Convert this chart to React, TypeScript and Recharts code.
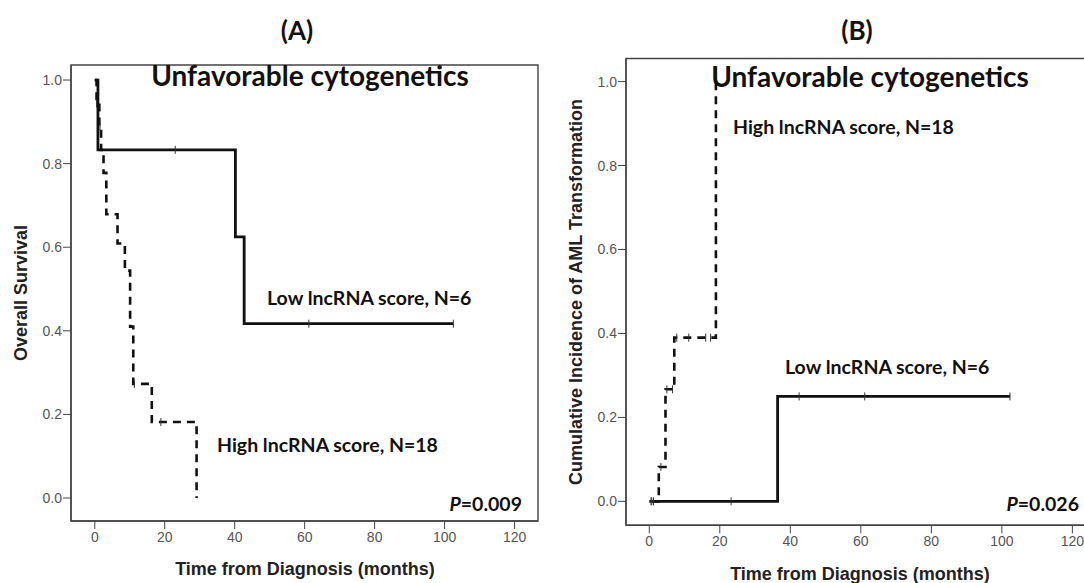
import { ComposedChart, Line, Scatter, XAxis, YAxis, ReferenceArea } from 'recharts';

const xTicks = [0, 20, 40, 60, 80, 100, 120];
const yTicks = [0, 0.2, 0.4, 0.6, 0.8, 1.0];

// (A) overall survival, low lncRNA score (N=6)
const osLowTime = [0, 0.9, 40.2, 42.7, 102.5];
const osLowValue = [1.0, 0.833, 0.625, 0.417, 0.417];
const osLowCensorTime = [23, 61.2, 102.5];
const osLowCensorValue = [0.833, 0.417, 0.417];

// (A) overall survival, high lncRNA score (N=18)
const osHighTime = [0, 0.5, 1.3, 1.8, 2.5, 3.3, 6.5, 8.6, 10.1, 11.0, 16.3, 29.1];
const osHighValue = [1.0, 0.944, 0.889, 0.833, 0.778, 0.679, 0.609, 0.544, 0.41, 0.273, 0.182, 0];
const osHighCensorTime = [0.5, 1.5, 11.3, 18.9];
const osHighCensorValue = [0.944, 0.889, 0.273, 0.182];

// (B) cumulative incidence of AML transformation, low score
const amlLowTime = [0, 36.4, 102.3];
const amlLowValue = [0, 0.25, 0.25];
const amlLowCensorTime = [0.5, 1.2, 23.2, 42.5, 61.1, 102.3];
const amlLowCensorValue = [0, 0, 0, 0.25, 0.25, 0.25];

// (B) high score
const amlHighTime = [0.5, 2.7, 4.6, 7.1, 18.9];
const amlHighValue = [0, 0.082, 0.267, 0.39, 1.0];
const amlHighCensorTime = [0.7, 3.3, 5.0, 6.6, 7.8, 11.2, 16.0, 17.4];
const amlHighCensorValue = [0, 0.082, 0.267, 0.267, 0.39, 0.39, 0.39, 0.39];

const zip = (t: number[], v: number[]) => t.map((x, i) => ({ x, y: v[i] }));

const Censor = (p: any) => (
  <line x1={p.cx} x2={p.cx} y1={p.cy - 4} y2={p.cy + 4} stroke="#333" strokeWidth={1} />
);

const axisFont = { fill: '#555', fontSize: 14, fontFamily: 'Liberation Sans, Arial, sans-serif' };

function Panel(props: any) {
  const { left, width, margin, xDomain, yDomain, low, high, lowCensor, highCensor } = props;
  return (
    <div style={{ position: 'absolute', left, top: 0 }}>
      <ComposedChart width={width} height={583} margin={margin}>
        <XAxis
          type="number"
          dataKey="x"
          domain={xDomain}
          ticks={xTicks}
          interval={0}
          allowDataOverflow
          height={30}
          tickSize={8}
          tickMargin={3}
          axisLine={{ stroke: '#444', strokeWidth: 1.4 }}
          tickLine={{ stroke: '#444' }}
          tick={axisFont}
        />
        <YAxis
          type="number"
          dataKey="y"
          domain={yDomain}
          ticks={yTicks}
          interval={0}
          allowDataOverflow
          width={40}
          tickSize={8}
          tickMargin={1}
          tickFormatter={(v: number) => v.toFixed(1)}
          axisLine={{ stroke: '#444', strokeWidth: 1.4 }}
          tickLine={{ stroke: '#444' }}
          tick={axisFont}
        />
        <ReferenceArea
          x1={xDomain[0]}
          x2={xDomain[1]}
          y1={yDomain[0]}
          y2={yDomain[1]}
          fill="none"
          stroke="#444"
          strokeWidth={1.4}
          ifOverflow="visible"
        />
        <Line data={low} dataKey="y" type="stepAfter" stroke="#111" strokeWidth={2.8} dot={false} isAnimationActive={false} />
        <Line data={high} dataKey="y" type="stepAfter" stroke="#111" strokeWidth={2.6} strokeDasharray="8 6" dot={false} isAnimationActive={false} />
        <Scatter data={lowCensor} dataKey="y" shape={Censor} isAnimationActive={false} />
        <Scatter data={highCensor} dataKey="y" shape={Censor} isAnimationActive={false} />
      </ComposedChart>
    </div>
  );
}

const noteFont = 'Lato, "Open Sans", sans-serif';
const titleFont = 'Liberation Sans, Arial, sans-serif';

export default function App() {
  return (
    <div style={{ position: 'fixed', left: 0, top: 0, width: 1084, height: 583, overflow: 'hidden', background: '#fff' }}>
      <Panel
        left={0}
        width={560}
        margin={{ top: 65, right: 22, bottom: 32, left: 31 }}
        xDomain={[-6.8, 126.7]}
        yDomain={[-0.055, 1.036]}
        low={zip(osLowTime, osLowValue)}
        high={zip(osHighTime, osHighValue)}
        lowCensor={zip(osLowCensorTime, osLowCensorValue)}
        highCensor={zip(osHighCensorTime, osHighCensorValue)}
      />
      <Panel
        left={540}
        width={570}
        margin={{ top: 58.5, right: 14, bottom: 27.7, left: 46 }}
        xDomain={[-6.6, 126.7]}
        yDomain={[-0.057, 1.055]}
        low={zip(amlLowTime, amlLowValue)}
        high={zip(amlHighTime, amlHighValue)}
        lowCensor={zip(amlLowCensorTime, amlLowCensorValue)}
        highCensor={zip(amlHighCensorTime, amlHighCensorValue)}
      />
      <svg width={1084} height={583} style={{ position: 'absolute', left: 0, top: 0, pointerEvents: 'none' }}>
        <g fontFamily={noteFont} fontWeight="bold" fill="#111">
          <text x={297} y={40} fontSize={26} textAnchor="middle">(A)</text>
          <text x={857} y={40} fontSize={26} textAnchor="middle">(B)</text>
          <text x={310} y={86} fontSize={28} textAnchor="middle">Unfavorable cytogenetics</text>
          <text x={870} y={87} fontSize={28} textAnchor="middle">Unfavorable cytogenetics</text>
          <text x={267} y={305} fontSize={19.5}>Low lncRNA score, N=6</text>
          <text x={217} y={452} fontSize={19.5}>High lncRNA score, N=18</text>
          <text x={733} y={134} fontSize={19.5}>High lncRNA score, N=18</text>
          <text x={785} y={374} fontSize={19.5}>Low lncRNA score, N=6</text>
          <text x={522} y={511} fontSize={19.5} textAnchor="end">
            <tspan fontStyle="italic">P</tspan>=0.009
          </text>
          <text x={1079} y={511} fontSize={19.5} textAnchor="end">
            <tspan fontStyle="italic">P</tspan>=0.026
          </text>
        </g>
        <g fontFamily={titleFont} fontWeight="bold" fill="#222" fontSize={18}>
          <text x={305} y={575} textAnchor="middle">Time from Diagnosis (months)</text>
          <text x={860} y={580} textAnchor="middle">Time from Diagnosis (months)</text>
          <text x={27} y={293} textAnchor="middle" transform="rotate(-90 27 293)">Overall Survival</text>
          <text x={582} y={292} textAnchor="middle" transform="rotate(-90 582 292)">Cumulative Incidence of AML Transformation</text>
        </g>
      </svg>
    </div>
  );
}
